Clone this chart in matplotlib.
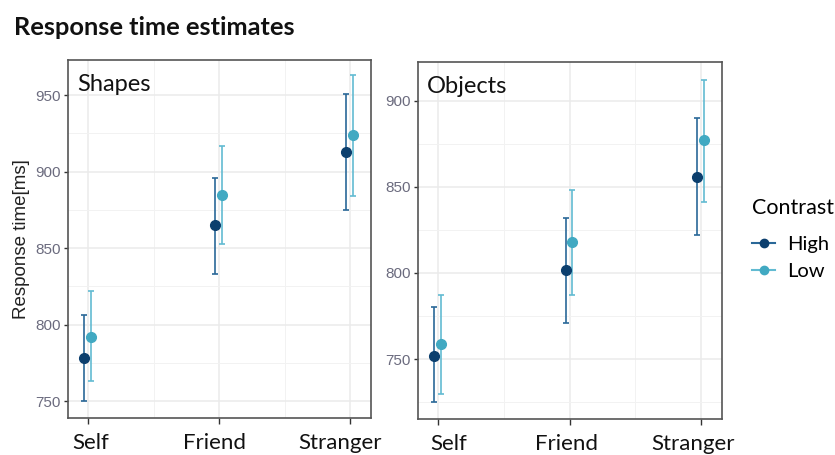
import matplotlib
matplotlib.use("Agg")
import matplotlib.pyplot as plt
from matplotlib.lines import Line2D
import matplotlib.transforms as mtrans
import numpy as np

categories = ["Self", "Friend", "Stranger"]
levels = ["High", "Low"]

# Shapes panel
shapes_high = [778, 865, 913]
shapes_high_lo = [750, 833, 875]
shapes_high_hi = [806, 896, 951]
shapes_low = [792, 885, 924]
shapes_low_lo = [763, 853, 884]
shapes_low_hi = [822, 917, 963]

# Objects panel
objects_high = [752, 802, 856]
objects_high_lo = [725, 771, 822]
objects_high_hi = [780, 832, 890]
objects_low = [759, 818, 877]
objects_low_lo = [730, 787, 841]
objects_low_hi = [787, 848, 912]

yticks_shapes = [750, 800, 850, 900, 950]
yticks_objects = [750, 800, 850, 900]

col_line = {"High": "#2a6898", "Low": "#62bbd2"}
col_mark = {"High": "#0c3f6e", "Low": "#41a9c2"}
offs = {"High": -0.03, "Low": 0.02}

fig = plt.figure(figsize=(8.35, 4.55), dpi=100)
ax1 = fig.add_axes([0.0814, 0.0813, 0.363, 0.787])
ax2 = fig.add_axes([0.5006, 0.0791, 0.364, 0.7846])

label_font = ["Lato", "DejaVu Sans"]
tick_font = ["Liberation Sans", "DejaVu Sans"]

def draw(ax, data, ylim, yticks, name, label_shift):
    x = np.arange(1, len(categories) + 1)
    for lev in levels:
        m, lo, hi = data[lev]
        m = np.array(m); lo = np.array(lo); hi = np.array(hi)
        ax.errorbar(x + offs[lev], m, yerr=[m - lo, hi - m], fmt="none",
                    ecolor=col_line[lev], elinewidth=1.2, capsize=2.5,
                    capthick=1.2, zorder=3)
        ax.plot(x + offs[lev], m, "o", color=col_mark[lev], markersize=7,
                zorder=4, label=lev)
    ax.set_yticks(yticks)
    minor = [(a + b) / 2 for a, b in zip(yticks[:-1], yticks[1:])]
    minor = [yticks[0] - 25] + minor + [yticks[-1] + 25]
    ax.set_yticks(minor, minor=True)
    ax.set_xticks(x)
    ax.set_xticks([1.5, 2.5], minor=True)
    ax.set_xlim(0.845, 3.16)
    ax.set_ylim(*ylim)
    ax.set_xticklabels(categories, fontfamily=label_font, fontsize=16,
                       color="#111111")
    ax.tick_params(axis="x", which="major", length=4, width=1, color="#333333",
                   pad=7)
    ax.tick_params(axis="y", which="major", length=3, width=1, color="#333333",
                   labelsize=11, labelcolor="#6b6b7e", pad=2)
    ax.tick_params(which="minor", length=0)
    for lab in ax.get_yticklabels():
        lab.set_fontfamily(tick_font)
    for lab, dx in zip(ax.get_xticklabels(), label_shift):
        lab.set_transform(lab.get_transform() +
                          mtrans.ScaledTranslation(dx / 100, 0,
                                                   fig.dpi_scale_trans))
    ax.grid(True, which="major", color="#ebebeb", linewidth=1.1, zorder=0)
    ax.grid(True, which="minor", color="#f2f2f2", linewidth=0.7, zorder=0)
    ax.set_axisbelow(True)
    for s in ax.spines.values():
        s.set_color("#555555")
        s.set_linewidth(1.2)
    ax.text(0.03, 0.96, name, transform=ax.transAxes, ha="left", va="top",
            fontfamily=label_font, fontsize=17, color="#111111")

draw(ax1, {"High": (shapes_high, shapes_high_lo, shapes_high_hi),
           "Low": (shapes_low, shapes_low_lo, shapes_low_hi)},
     (739, 973), yticks_shapes, "Shapes", [2, -5, -10])
draw(ax2, {"High": (objects_high, objects_high_lo, objects_high_hi),
           "Low": (objects_low, objects_low_lo, objects_low_hi)},
     (715.2, 922.5), yticks_objects, "Objects", [10, -3, -8])

ax1.set_ylabel("Response time[ms]", fontfamily=tick_font, fontsize=13.5,
               color="#222222", labelpad=4)

fig.text(0.017, 0.94, "Response time estimates", fontfamily=label_font,
         fontweight="bold", fontsize=18.3, color="#111111", ha="left",
         va="center")

h = [Line2D([0], [0], color=col_line[l], marker="o", markersize=6,
            markerfacecolor=col_mark[l], markeredgecolor=col_mark[l],
            linewidth=1.5) for l in levels]
leg = fig.legend(h, levels, title="Contrast", loc="upper left",
                 bbox_to_anchor=(0.9006, 0.565), frameon=False,
                 prop={"family": label_font, "size": 14.5},
                 title_fontproperties={"family": label_font, "size": 15.5},
                 handlelength=1.15, handletextpad=0.6, labelspacing=0.5,
                 borderaxespad=0, borderpad=0)
leg._legend_box.align = "left"
leg._legend_box.sep = 13

fig.savefig("out.png", dpi=100)
